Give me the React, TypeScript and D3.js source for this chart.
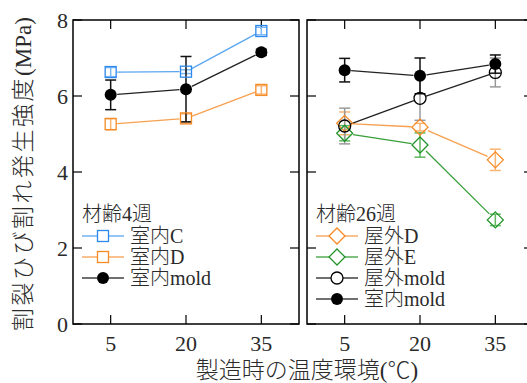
import React from 'react';
import * as d3 from 'd3';

// temperature at casting (°C)
const temps = [5, 20, 35];
const yTicks = [0, 2, 4, 6, 8];

// 材齢4週
const indoorC4 = [6.63, 6.64, 7.71];
const indoorC4Err = [0.12, 0.05, 0.1];
const indoorD4 = [5.26, 5.41, 6.16];
const indoorD4Err = [0.15, 0.12, 0.11];
const indoorMold4 = [6.03, 6.18, 7.15];
const indoorMold4Err = [0.39, 0.86, 0.08];

// 材齢26週
const outdoorD26 = [5.28, 5.18, 4.32];
const outdoorD26Err = [0.3, 0.1, 0.28];
const outdoorE26 = [5.02, 4.71, 2.74];
const outdoorE26Err = [0.2, 0.32, 0.15];
const outdoorMold26 = [5.21, 5.94, 6.62];
const outdoorMold26Err = [0.47, 0.58, 0.38];
const indoorMold26 = [6.68, 6.53, 6.84];
const indoorMold26Err = [0.31, 0.47, 0.24];

const BLUE = '#2b88ec';
const ORANGE = '#f68a24';
const GREEN = '#22952a';

type Marker = 'square' | 'circle' | 'disc' | 'diamond';
type Series = {
  name: string;
  values: number[];
  err: number[];
  color: string;
  lineColor: string;
  errColor: string;
  marker: Marker;
};

const leftSeries: Series[] = [
  { name: '室内C', values: indoorC4, err: indoorC4Err, color: BLUE, lineColor: '#5aa6f0', errColor: '#7ab8f4', marker: 'square' },
  { name: '室内D', values: indoorD4, err: indoorD4Err, color: ORANGE, lineColor: '#f6a050', errColor: '#f9b472', marker: 'square' },
  { name: '室内mold', values: indoorMold4, err: indoorMold4Err, color: '#000', lineColor: '#222', errColor: '#111', marker: 'disc' },
];

const rightSeries: Series[] = [
  { name: '屋外D', values: outdoorD26, err: outdoorD26Err, color: ORANGE, lineColor: '#f6a050', errColor: '#f9b472', marker: 'diamond' },
  { name: '屋外E', values: outdoorE26, err: outdoorE26Err, color: GREEN, lineColor: '#3a9f3a', errColor: '#5fb85f', marker: 'diamond' },
  { name: '屋外mold', values: outdoorMold26, err: outdoorMold26Err, color: '#000', lineColor: '#222', errColor: '#999', marker: 'circle' },
  { name: '室内mold', values: indoorMold26, err: indoorMold26Err, color: '#000', lineColor: '#222', errColor: '#111', marker: 'disc' },
];

const W = 527, H = 383;
const top = 20, bottom = 324;
const serif = '"Liberation Serif", "Times New Roman", "Noto Sans CJK JP", serif';
const textColor = '#2a2a2a';

const markerR = (m: Marker) => (m === 'diamond' ? 8 : 6);

function MarkerShape({ m, x, y, color }: { m: Marker; x: number; y: number; color: string }) {
  if (m === 'square')
    return <rect x={x - 5.5} y={y - 5.5} width={11} height={11} fill="none" stroke={color} strokeWidth={1.3} />;
  if (m === 'diamond')
    return <path d={`M${x},${y - 8}L${x + 8},${y}L${x},${y + 8}L${x - 8},${y}Z`} fill="none" stroke={color} strokeWidth={1.3} />;
  if (m === 'circle') return <circle cx={x} cy={y} r={6} fill="none" stroke={color} strokeWidth={1.3} />;
  return <circle cx={x} cy={y} r={6} fill={color} />;
}

function Panel({ x0, x1, series, title, showYLabels }: { x0: number; x1: number; series: Series[]; title: string; showYLabels: boolean }) {
  const x = d3.scaleLinear().domain([-2.5, 42.5]).range([x0, x1]);
  const y = d3.scaleLinear().domain([0, 8]).range([bottom, top]);
  const tk = 9;

  // connecting lines stop at the marker outline
  const segs = (s: Series) => {
    const pts = temps.map((t, i) => [x(t), y(s.values[i])]);
    const r = markerR(s.marker) + 0.5;
    return d3.pairs(pts).map(([a, b]) => {
      const dx = b[0] - a[0], dy = b[1] - a[1];
      const len = Math.hypot(dx, dy);
      const ux = dx / len, uy = dy / len;
      return [a[0] + ux * r, a[1] + uy * r, b[0] - ux * r, b[1] - uy * r];
    });
  };

  const legX = x0 + 9;
  const legY0 = 236;
  const legDy = 21;

  return (
    <g>
      {yTicks.map((v) => (
        <g key={'y' + v}>
          <line x1={x0} x2={x0 + tk} y1={y(v)} y2={y(v)} stroke="#000" strokeWidth={1.2} />
          <line x1={x1} x2={x1 - tk} y1={y(v)} y2={y(v)} stroke="#000" strokeWidth={1.2} />
          {showYLabels && (
            <text x={x0 - 5} y={y(v) + 7.5} textAnchor="end" fontFamily={serif} fontSize={22} fill={textColor}>
              {v}
            </text>
          )}
        </g>
      ))}
      {temps.map((t) => (
        <g key={'x' + t}>
          <line x1={x(t)} x2={x(t)} y1={bottom} y2={bottom - tk} stroke="#000" strokeWidth={1.2} />
          <line x1={x(t)} x2={x(t)} y1={top} y2={top + tk} stroke="#000" strokeWidth={1.2} />
          <text x={x(t)} y={bottom + 27} textAnchor="middle" fontFamily={serif} fontSize={22} fill={textColor}>
            {t}
          </text>
        </g>
      ))}

      {series.map((s) => (
        <g key={s.name + 'l'}>
          {segs(s).map((sg, i) => (
            <line key={i} x1={sg[0]} y1={sg[1]} x2={sg[2]} y2={sg[3]} stroke={s.lineColor} strokeWidth={1.3} />
          ))}
        </g>
      ))}
      {series.map((s) => (
        <g key={s.name + 'e'}>
          {temps.map((t, i) => {
            const cx = x(t);
            const ya = y(s.values[i] + s.err[i]);
            const yb = y(s.values[i] - s.err[i]);
            return (
              <g key={i} stroke={s.errColor} strokeWidth={1.5}>
                <line x1={cx} x2={cx} y1={ya} y2={yb} />
                <line x1={cx - 5.5} x2={cx + 5.5} y1={ya} y2={ya} />
                <line x1={cx - 5.5} x2={cx + 5.5} y1={yb} y2={yb} />
              </g>
            );
          })}
        </g>
      ))}
      {series.map((s) => (
        <g key={s.name + 'm'}>
          {temps.map((t, i) => (
            <MarkerShape key={i} m={s.marker} x={x(t)} y={y(s.values[i])} color={s.color} />
          ))}
        </g>
      ))}

      {/* legend */}
      <text x={legX} y={legY0 - 15} fontFamily={serif} fontSize={20} fontWeight={300} fill={textColor}>
        {title}
      </text>
      {series.map((s, i) => {
        const ly = legY0 + i * legDy;
        const mx = legX + 21;
        const r = markerR(s.marker);
        return (
          <g key={s.name + 'leg'}>
            <line x1={legX} x2={mx - r} y1={ly} y2={ly} stroke={s.lineColor} strokeWidth={1.3} />
            <line x1={mx + r} x2={legX + 42} y1={ly} y2={ly} stroke={s.lineColor} strokeWidth={1.3} />
            <MarkerShape m={s.marker} x={mx} y={ly} color={s.color} />
            <text x={legX + 48} y={ly + 7} fontFamily={serif} fontSize={20} fontWeight={300} fill={textColor}>
              {s.name}
            </text>
          </g>
        );
      })}

      <rect x={x0} y={top} width={x1 - x0} height={bottom - top} fill="none" stroke="#000" strokeWidth={1.5} />
    </g>
  );
}

export default function App() {
  return (
    <svg width={W} height={H} style={{ position: 'absolute', left: 0, top: 0, background: '#fff' }}>
      <Panel x0={73} x1={299} series={leftSeries} title="材齢4週" showYLabels={true} />
      <Panel x0={307} x1={533} series={rightSeries} title="材齢26週" showYLabels={false} />
      <text x={307} y={378} textAnchor="middle" fontFamily={serif} fontSize={23} fontWeight={300} fill={textColor}>
        製造時の温度環境(℃)
      </text>
      <text
        transform={`translate(31,174) rotate(-90)`}
        textAnchor="middle"
        fontFamily={serif}
        fontSize={23}
        fontWeight={300}
        fill={textColor}
      >
        <tspan letterSpacing={2.5}>割裂ひび割れ発生強度</tspan>
        <tspan>(MPa)</tspan>
      </text>
    </svg>
  );
}
